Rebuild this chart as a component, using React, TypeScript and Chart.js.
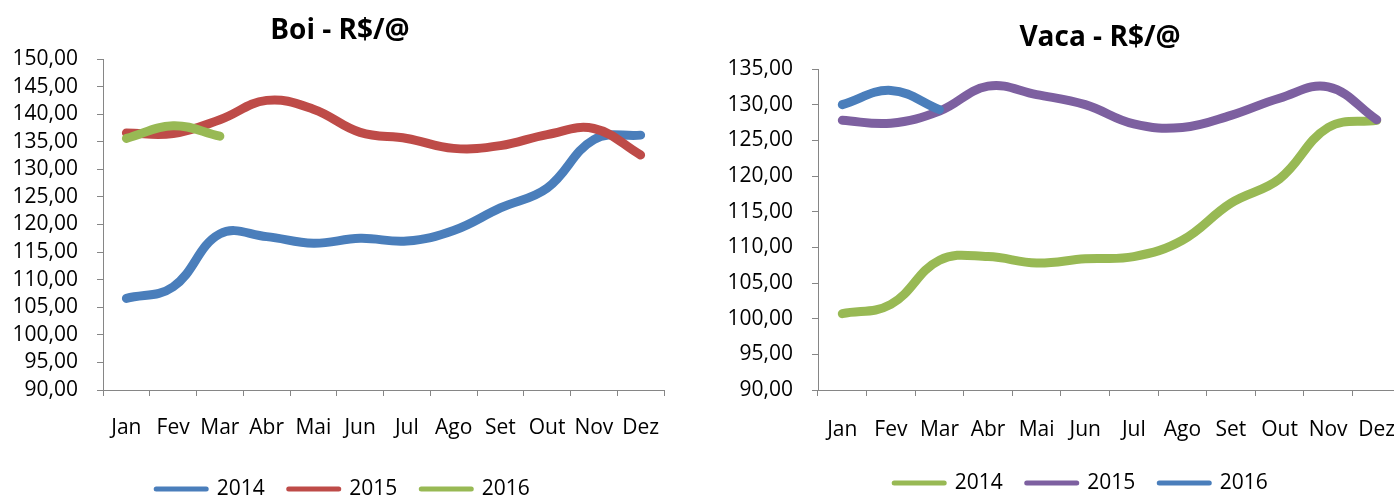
import React, { useEffect, useRef } from "react";
import { Chart, registerables } from "chart.js";

Chart.register(...registerables);

const months = ["Jan", "Fev", "Mar", "Abr", "Mai", "Jun", "Jul", "Ago", "Set", "Out", "Nov", "Dez"];
const seriesNames = ["2014", "2015", "2016"];

const boi2014 = [106.6, 108.7, 118.3, 117.8, 116.6, 117.5, 117.0, 118.9, 123.0, 126.6, 135.4, 136.2];
const boi2015 = [136.6, 136.5, 139.0, 142.5, 140.9, 136.7, 135.6, 133.8, 134.3, 136.3, 137.4, 132.6];
const boi2016 = [135.6, 137.9, 136.0];

const vaca2014 = [100.7, 102.0, 108.2, 108.7, 107.8, 108.4, 108.7, 111.0, 116.2, 119.6, 126.8, 127.8];
const vaca2015 = [127.8, 127.4, 129.1, 132.6, 131.4, 130.0, 127.3, 126.8, 128.5, 130.9, 132.5, 127.9];
const vaca2016 = [130.0, 132.0, 129.3];

const boiColors = ["#4A7EBB", "#BE4B48", "#98B954"];
const vacaColors = ["#98B954", "#7D60A0", "#4A7EBB"];

const FONT = "'Open Sans', 'DejaVu Sans', sans-serif";
const AXIS = "#868686";

const placeBoxes = {
  id: "placeBoxes",
  afterLayout(chart: any, _args: any, opts: any) {
    const t = chart.titleBlock;
    if (t && opts.titleX != null) {
      const d = opts.titleX - (t.left + t.right) / 2;
      t.left += d;
      t.right += d;
    }
    const l = chart.legend;
    if (l && opts.legendX != null) {
      const dx = opts.legendX - (l.left + l.right) / 2;
      l.left += dx;
      l.right += dx;
      const pad = l.options.labels.padding;
      const fs = l.options.labels.font.size;
      const cy = l.top + pad + fs / 2;
      const dy = opts.legendY - cy;
      l.top += dy;
      l.bottom += dy;
    }
  },
};

function fmt(v: number) {
  return v.toFixed(2).replace(".", ",");
}

type Cfg = {
  title: string;
  data: number[][];
  colors: string[];
  yMin: number;
  yMax: number;
  yWidth: number;
  padRight: number;
  titlePad: { top: number; bottom: number };
  xPad: number;
  titleX: number;
  legendX: number;
  legendY: number;
};

function makeConfig(c: Cfg): any {
  return {
    type: "line",
    data: {
      labels: months,
      datasets: c.data.map((d, i) => ({
        label: seriesNames[i],
        data: d,
        borderColor: c.colors[i],
        backgroundColor: c.colors[i],
        borderWidth: 9,
        borderCapStyle: "round",
        borderJoinStyle: "round",
        pointRadius: 0,
        tension: 0.4,
        fill: false,
        order: 3 - i,
      })),
    },
    plugins: [placeBoxes],
    options: {
      animation: false,
      responsive: false,
      devicePixelRatio: 1,
      layout: { padding: { left: 0, right: c.padRight, top: 0, bottom: 0 } },
      scales: {
        x: {
          offset: true,
          grid: {
            offset: true,
            drawOnChartArea: false,
            drawTicks: true,
            tickLength: 6,
            color: AXIS,
          },
          border: { display: true, color: AXIS, width: 1 },
          ticks: {
            color: "#000",
            font: { family: FONT, size: 21 },
            padding: c.xPad,
            maxRotation: 0,
            autoSkip: false,
          },
          afterFit: (s: any) => {
            s.height = 52;
          },
        },
        y: {
          min: c.yMin,
          max: c.yMax,
          grid: {
            drawOnChartArea: false,
            drawTicks: true,
            tickLength: 6,
            color: AXIS,
          },
          border: { display: true, color: AXIS, width: 1 },
          ticks: {
            stepSize: 5,
            color: "#000",
            font: { family: FONT, size: 21 },
            padding: 19,
            autoSkip: false,
            callback: (v: any) => fmt(Number(v)),
          },
          afterFit: (s: any) => {
            s.width = c.yWidth;
          },
        },
      },
      plugins: {
        title: {
          display: true,
          text: c.title,
          color: "#000",
          font: { family: FONT, size: 28, weight: "bold" },
          padding: c.titlePad,
        },
        legend: {
          display: true,
          position: "bottom",
          labels: {
            usePointStyle: true,
            pointStyleWidth: 50,
            color: "#000",
            font: { family: FONT, size: 21 },
            padding: 24,
            generateLabels: (chart: any) =>
              chart.data.datasets.map((ds: any, i: number) => ({
                text: ds.label,
                fillStyle: ds.borderColor,
                strokeStyle: ds.borderColor,
                fontColor: "#000",
                lineWidth: 5,
                lineCap: "round",
                pointStyle: "line",
                hidden: false,
                datasetIndex: i,
              })),
          },
        },
        tooltip: { enabled: false },
        placeBoxes: { titleX: c.titleX, legendX: c.legendX, legendY: c.legendY },
      },
    },
  };
}

function ChartCanvas({ cfg, left, width }: { cfg: Cfg; left: number; width: number }) {
  const ref = useRef<HTMLCanvasElement | null>(null);
  useEffect(() => {
    if (!ref.current) return;
    const chart = new Chart(ref.current, makeConfig(cfg));
    return () => chart.destroy();
  }, []);
  return (
    <canvas
      ref={ref}
      width={width}
      height={497}
      style={{ position: "absolute", left, top: 0, width, height: 497 }}
    />
  );
}

const LEFT_W = 680;
const RIGHT_L = 712;
const RIGHT_W = 780;

const boiCfg: Cfg = {
  title: "Boi - R$/@",
  data: [boi2014, boi2015, boi2016],
  colors: boiColors,
  yMin: 90,
  yMax: 150,
  yWidth: 103,
  padRight: LEFT_W - 664,
  titlePad: { top: 14, bottom: 11.4 },
  xPad: 19,
  titleX: 340,
  legendX: 343,
  legendY: 489,
};

const vacaCfg: Cfg = {
  title: "Vaca - R$/@",
  data: [vaca2014, vaca2015, vaca2016],
  colors: vacaColors,
  yMin: 90,
  yMax: 135,
  yWidth: 818 - RIGHT_L,
  padRight: RIGHT_W - (1401 - RIGHT_L),
  titlePad: { top: 21, bottom: 14.4 },
  xPad: 21,
  titleX: 1100 - RIGHT_L,
  legendX: 1081 - RIGHT_L,
  legendY: 483,
};

export default function App() {
  return (
    <div
      style={{
        position: "fixed",
        left: 0,
        top: 0,
        width: 1394,
        height: 497,
        overflow: "hidden",
        background: "#fff",
      }}
    >
      <ChartCanvas cfg={boiCfg} left={0} width={LEFT_W} />
      <ChartCanvas cfg={vacaCfg} left={RIGHT_L} width={RIGHT_W} />
    </div>
  );
}
